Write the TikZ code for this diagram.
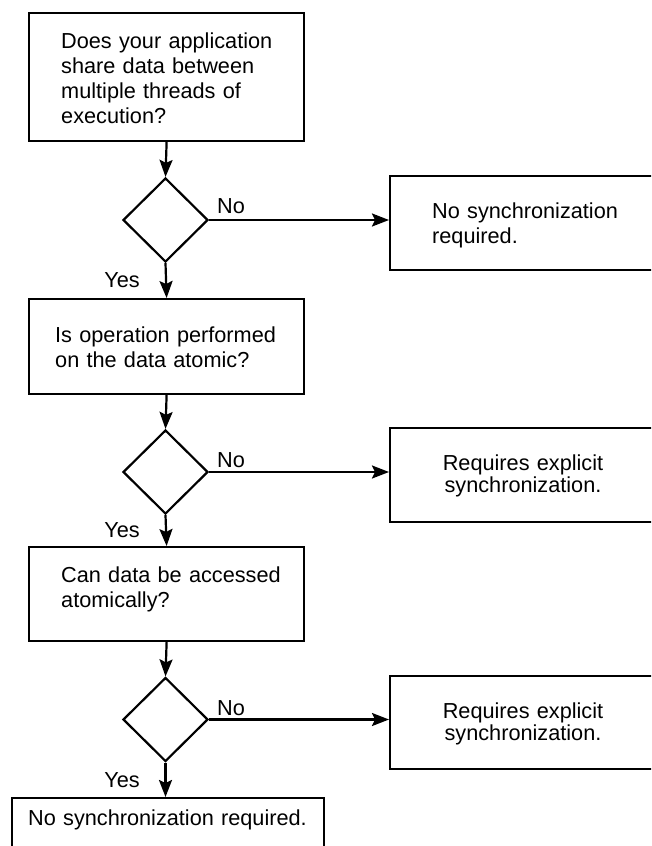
\documentclass[tikz,border=0pt]{standalone}
\usepackage{fontspec}
\setmainfont{Liberation Sans}
\usetikzlibrary{shapes.geometric,arrows.meta}

\begin{document}
\begin{tikzpicture}[x=1pt,y=-1pt,
  every node/.style={inner sep=0pt},
  box/.style={draw,line width=2.2pt,rectangle,anchor=north west},
  decision/.style={draw,line width=2.2pt,diamond,aspect=1,
    minimum width=85pt,minimum height=84pt},
  ltext/.style={text width=320pt,align=left,anchor=base west,
    font=\fontsize{21.7}{25}\selectfont},
  ctext/.style={text width=240pt,align=center,anchor=base,
    font=\fontsize{21.7}{22}\selectfont},
  lbl/.style={anchor=base,font=\fontsize{21.7}{25}\selectfont},
  arr/.style={line width=2.2pt,-{Stealth[length=17pt,width=13pt,inset=3pt]}}]

\useasboundingbox (0,0) rectangle (651,846);
\clip (0,0) rectangle (651,846);

% main column of questions
\node[box,minimum width=275pt,minimum height=128pt] (b1) at (28,12) {};
\node[ltext] (t1) at (61,48)
  {Does your application\\share data between\\multiple threads of\\execution?};

\node[decision] (d1) at (165.5,220) {};

\node[box,minimum width=275pt,minimum height=95pt] (b2) at (28,298) {};
\node[ltext] (t2) at (55,342)
  {Is operation performed\\on the data atomic?};

\node[decision] (d2) at (165.5,472) {};

\node[box,minimum width=275pt,minimum height=94pt] (b3) at (28,546) {};
\node[ltext] (t3) at (61,582)
  {Can data be accessed\\atomically?};

\node[decision] (d3) at (165.5,719.5) {};

\node[box,minimum width=312pt,minimum height=80pt] (b4) at (11,797) {};
\node[ltext] (t4) at (28,825) {No synchronization required.};

% outcome boxes on the right
\node[box,minimum width=268pt,minimum height=94pt] (r1) at (389,175) {};
\node[ltext] (tr1) at (432,218) {No synchronization\\required.};

\node[box,minimum width=268pt,minimum height=94pt] (r2) at (389,427) {};
\node[ctext] (tr2) at (523,470) {Requires explicit\\synchronization.};

\node[box,minimum width=268pt,minimum height=93pt] (r3) at (389,675) {};
\node[ctext] (tr3) at (523,718) {Requires explicit\\synchronization.};

% branch labels
\node[lbl] (no1) at (231,213) {No};
\node[lbl] (no2) at (231,467) {No};
\node[lbl] (no3) at (231,715) {No};
\node[lbl] (yes1) at (122,287) {Yes};
\node[lbl] (yes2) at (122,537) {Yes};
\node[lbl] (yes3) at (122,787) {Yes};

% connectors
\draw[arr] (b1.south) -- (d1.north);
\draw[arr] (d1.south) -- (b2.north);
\draw[arr] (b2.south) -- (d2.north);
\draw[arr] (d2.south) -- (b3.north);
\draw[arr] (b3.south) -- (d3.north);
\draw[arr] (d3.south) -- (d3.south |- b4.north);

\draw[arr] (d1.east) -- (d1.east -| r1.west);
\draw[arr] (d2.east) -- (d2.east -| r2.west);
\draw[arr] (d3.east) -- (d3.east -| r3.west);
\end{tikzpicture}
\end{document}
